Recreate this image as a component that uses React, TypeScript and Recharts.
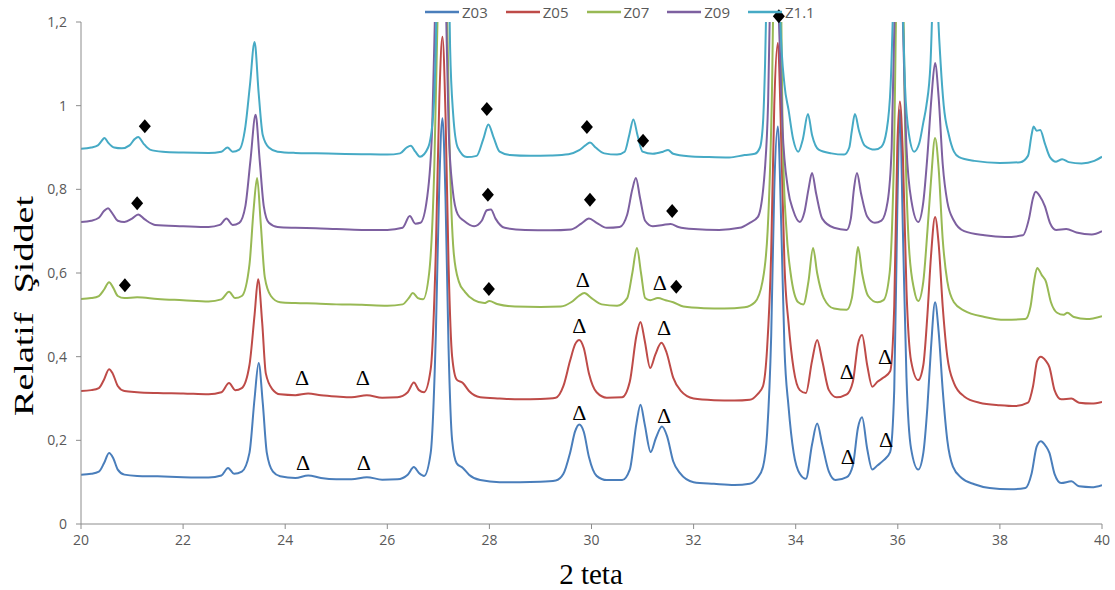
import { LineChart, Line, XAxis, YAxis, ReferenceDot } from 'recharts';

// [2θ, relative intensity]
const z03 = [
  [20.0, 0.118], [20.2, 0.12], [20.35, 0.125], [20.45, 0.145], [20.55, 0.17], [20.63, 0.158], [20.72, 0.13], [20.85, 0.118],
  [21.1, 0.115], [21.5, 0.114], [22.0, 0.112], [22.5, 0.111], [22.75, 0.116], [22.88, 0.134], [23.0, 0.12], [23.15, 0.125],
  [23.3, 0.17], [23.4, 0.3], [23.48, 0.385], [23.56, 0.29], [23.64, 0.17], [23.76, 0.125], [23.9, 0.114], [24.2, 0.11],
  [24.45, 0.116], [24.7, 0.11], [25.0, 0.107], [25.3, 0.107], [25.6, 0.112], [25.9, 0.106], [26.2, 0.107], [26.4, 0.118],
  [26.52, 0.136], [26.62, 0.122], [26.72, 0.115], [26.85, 0.17], [26.95, 0.45], [27.02, 0.82], [27.08, 0.97], [27.14, 0.78],
  [27.2, 0.42], [27.27, 0.2], [27.36, 0.145], [27.48, 0.134], [27.6, 0.118], [27.82, 0.105], [28.2, 0.1], [28.6, 0.1],
  [29.0, 0.101], [29.3, 0.104], [29.45, 0.12], [29.58, 0.17], [29.68, 0.222], [29.76, 0.238], [29.85, 0.22], [29.95, 0.16],
  [30.1, 0.115], [30.3, 0.105], [30.6, 0.105], [30.75, 0.13], [30.88, 0.24], [30.96, 0.285], [31.04, 0.24], [31.16, 0.172],
  [31.26, 0.205], [31.38, 0.233], [31.48, 0.21], [31.6, 0.15], [31.73, 0.122], [32.0, 0.1], [32.4, 0.096], [32.8, 0.093],
  [33.1, 0.096], [33.25, 0.11], [33.36, 0.137], [33.44, 0.217], [33.52, 0.45], [33.58, 0.8], [33.65, 0.95], [33.72, 0.7],
  [33.78, 0.42], [33.86, 0.28], [33.96, 0.17], [34.08, 0.12], [34.2, 0.108], [34.32, 0.19], [34.42, 0.24], [34.52, 0.19],
  [34.65, 0.125], [34.78, 0.105], [35.0, 0.112], [35.12, 0.14], [35.22, 0.23], [35.3, 0.255], [35.4, 0.18], [35.5, 0.13],
  [35.6, 0.14], [35.72, 0.152], [35.85, 0.172], [35.93, 0.32], [35.99, 0.75], [36.04, 0.99], [36.1, 0.7], [36.17, 0.35],
  [36.26, 0.18], [36.4, 0.13], [36.5, 0.17], [36.58, 0.28], [36.65, 0.42], [36.73, 0.53], [36.8, 0.46], [36.88, 0.32],
  [36.97, 0.2], [37.08, 0.137], [37.25, 0.11], [37.5, 0.095], [37.8, 0.086], [38.2, 0.083], [38.5, 0.086], [38.62, 0.12],
  [38.72, 0.185], [38.8, 0.198], [38.9, 0.186], [38.97, 0.17], [39.07, 0.12], [39.2, 0.098], [39.4, 0.102], [39.55, 0.09],
  [39.8, 0.088], [40.0, 0.093],
];

const z05 = [
  [20.0, 0.318], [20.2, 0.32], [20.35, 0.325], [20.45, 0.345], [20.55, 0.37], [20.62, 0.36], [20.72, 0.33], [20.85, 0.318],
  [21.1, 0.315], [21.5, 0.313], [22.0, 0.312], [22.5, 0.31], [22.75, 0.315], [22.9, 0.337], [23.02, 0.32], [23.15, 0.325],
  [23.3, 0.38], [23.4, 0.5], [23.47, 0.585], [23.55, 0.48], [23.62, 0.36], [23.75, 0.322], [23.9, 0.31], [24.2, 0.308],
  [24.45, 0.312], [24.7, 0.308], [25.0, 0.305], [25.3, 0.303], [25.6, 0.308], [25.9, 0.302], [26.2, 0.303], [26.4, 0.315],
  [26.52, 0.338], [26.62, 0.32], [26.72, 0.315], [26.85, 0.37], [26.95, 0.65], [27.02, 1.02], [27.08, 1.165], [27.14, 0.98],
  [27.2, 0.62], [27.27, 0.4], [27.36, 0.345], [27.48, 0.337], [27.6, 0.318], [27.82, 0.303], [28.2, 0.3], [28.6, 0.298],
  [29.0, 0.299], [29.3, 0.302], [29.45, 0.33], [29.58, 0.39], [29.68, 0.43], [29.76, 0.44], [29.85, 0.42], [29.95, 0.36],
  [30.1, 0.315], [30.3, 0.302], [30.6, 0.303], [30.75, 0.34], [30.88, 0.45], [30.96, 0.483], [31.04, 0.44], [31.15, 0.373],
  [31.25, 0.405], [31.37, 0.433], [31.47, 0.41], [31.6, 0.35], [31.75, 0.318], [32.0, 0.3], [32.4, 0.296], [32.8, 0.295],
  [33.1, 0.297], [33.25, 0.31], [33.36, 0.33], [33.44, 0.42], [33.52, 0.65], [33.58, 1.0], [33.65, 1.15], [33.72, 0.9],
  [33.78, 0.62], [33.86, 0.48], [33.96, 0.37], [34.08, 0.32], [34.2, 0.313], [34.32, 0.39], [34.42, 0.44], [34.52, 0.39],
  [34.65, 0.32], [34.8, 0.303], [35.0, 0.31], [35.12, 0.34], [35.22, 0.43], [35.3, 0.452], [35.4, 0.38], [35.5, 0.328],
  [35.6, 0.34], [35.72, 0.35], [35.85, 0.365], [35.93, 0.52], [35.99, 0.9], [36.04, 1.01], [36.1, 0.88], [36.17, 0.56],
  [36.26, 0.39], [36.4, 0.344], [36.5, 0.38], [36.58, 0.5], [36.65, 0.64], [36.73, 0.734], [36.8, 0.67], [36.88, 0.52],
  [36.97, 0.4], [37.1, 0.337], [37.3, 0.305], [37.6, 0.29], [38.0, 0.284], [38.3, 0.282], [38.55, 0.29], [38.65, 0.33],
  [38.73, 0.39], [38.8, 0.4], [38.9, 0.39], [38.97, 0.375], [39.07, 0.32], [39.2, 0.298], [39.4, 0.3], [39.55, 0.29],
  [39.8, 0.288], [40.0, 0.292],
];

const z07 = [
  [20.0, 0.538], [20.2, 0.54], [20.35, 0.545], [20.45, 0.56], [20.55, 0.578], [20.63, 0.565], [20.72, 0.545], [20.85, 0.54],
  [21.1, 0.542], [21.5, 0.538], [22.0, 0.535], [22.5, 0.532], [22.75, 0.537], [22.9, 0.555], [23.02, 0.54], [23.15, 0.545],
  [23.3, 0.62], [23.38, 0.75], [23.45, 0.827], [23.52, 0.72], [23.6, 0.59], [23.72, 0.545], [23.9, 0.53], [24.2, 0.528],
  [24.6, 0.527], [25.0, 0.525], [25.5, 0.524], [26.0, 0.522], [26.3, 0.525], [26.42, 0.54], [26.5, 0.552], [26.6, 0.54],
  [26.7, 0.537], [26.82, 0.6], [26.92, 0.85], [27.0, 1.3], [27.08, 1.6], [27.16, 1.3], [27.22, 0.9], [27.3, 0.65],
  [27.4, 0.58], [27.52, 0.555], [27.7, 0.535], [27.9, 0.528], [28.0, 0.533], [28.15, 0.526], [28.5, 0.52], [29.0, 0.519],
  [29.4, 0.52], [29.6, 0.53], [29.75, 0.545], [29.86, 0.552], [30.0, 0.54], [30.2, 0.525], [30.5, 0.522], [30.7, 0.54],
  [30.8, 0.6], [30.89, 0.66], [30.97, 0.6], [31.05, 0.54], [31.15, 0.535], [31.3, 0.54], [31.45, 0.535], [31.6, 0.53],
  [31.8, 0.52], [32.2, 0.516], [32.6, 0.515], [33.0, 0.518], [33.2, 0.53], [33.35, 0.58], [33.45, 0.7], [33.53, 1.0],
  [33.6, 1.5], [33.68, 1.5], [33.75, 0.9], [33.82, 0.7], [33.9, 0.6], [34.05, 0.53], [34.15, 0.525], [34.25, 0.58],
  [34.34, 0.66], [34.42, 0.6], [34.55, 0.54], [34.75, 0.515], [35.0, 0.512], [35.1, 0.54], [35.16, 0.6], [35.22, 0.662],
  [35.3, 0.6], [35.42, 0.545], [35.6, 0.53], [35.72, 0.535], [35.84, 0.6], [35.92, 0.85], [36.0, 1.4], [36.08, 1.4],
  [36.15, 0.9], [36.22, 0.66], [36.32, 0.56], [36.4, 0.533], [36.5, 0.58], [36.58, 0.7], [36.65, 0.82], [36.73, 0.923],
  [36.8, 0.85], [36.88, 0.68], [36.97, 0.58], [37.1, 0.53], [37.3, 0.51], [37.7, 0.495], [38.1, 0.488], [38.5, 0.49],
  [38.6, 0.52], [38.67, 0.58], [38.73, 0.612], [38.82, 0.595], [38.9, 0.58], [39.0, 0.53], [39.12, 0.505], [39.25, 0.5],
  [39.32, 0.505], [39.45, 0.495], [39.7, 0.49], [40.0, 0.497],
];

const z09 = [
  [20.0, 0.722], [20.2, 0.725], [20.35, 0.732], [20.45, 0.748], [20.53, 0.755], [20.6, 0.745], [20.72, 0.725], [20.85, 0.722],
  [21.0, 0.73], [21.12, 0.74], [21.25, 0.728], [21.45, 0.715], [22.0, 0.712], [22.5, 0.71], [22.72, 0.715], [22.85, 0.73],
  [22.97, 0.715], [23.1, 0.72], [23.22, 0.76], [23.32, 0.87], [23.42, 0.978], [23.5, 0.87], [23.58, 0.76], [23.68, 0.72],
  [23.85, 0.71], [24.2, 0.708], [24.6, 0.707], [25.0, 0.705], [25.5, 0.703], [26.0, 0.703], [26.3, 0.708], [26.44, 0.736],
  [26.55, 0.718], [26.65, 0.72], [26.78, 0.78], [26.88, 0.95], [26.95, 1.3], [27.05, 1.7], [27.14, 1.3], [27.2, 0.95],
  [27.28, 0.8], [27.38, 0.74], [27.5, 0.725], [27.7, 0.712], [27.85, 0.725], [27.95, 0.75], [28.03, 0.752], [28.12, 0.73],
  [28.3, 0.708], [28.7, 0.703], [29.2, 0.702], [29.6, 0.704], [29.8, 0.718], [29.95, 0.73], [30.1, 0.72], [30.3, 0.708],
  [30.55, 0.71], [30.7, 0.74], [30.8, 0.8], [30.87, 0.827], [30.95, 0.78], [31.05, 0.725], [31.2, 0.712], [31.4, 0.715],
  [31.55, 0.717], [31.7, 0.71], [32.0, 0.705], [32.5, 0.703], [32.9, 0.708], [33.1, 0.72], [33.26, 0.734], [33.4, 0.853],
  [33.46, 1.01], [33.52, 1.4], [33.58, 1.6], [33.66, 1.25], [33.74, 0.95], [33.85, 0.8], [33.95, 0.75], [34.08, 0.722],
  [34.17, 0.745], [34.25, 0.8], [34.32, 0.839], [34.4, 0.79], [34.52, 0.73], [34.75, 0.708], [35.0, 0.703], [35.08, 0.73],
  [35.14, 0.8], [35.2, 0.839], [35.28, 0.79], [35.4, 0.735], [35.55, 0.72], [35.68, 0.725], [35.8, 0.77], [35.88, 0.9],
  [35.95, 1.3], [36.02, 1.6], [36.1, 1.2], [36.17, 0.9], [36.27, 0.77], [36.4, 0.722], [36.5, 0.77], [36.58, 0.88],
  [36.66, 1.02], [36.73, 1.102], [36.8, 1.02], [36.88, 0.86], [36.97, 0.77], [37.1, 0.725], [37.3, 0.7], [37.7, 0.69],
  [38.1, 0.686], [38.45, 0.69], [38.57, 0.73], [38.65, 0.78], [38.7, 0.794], [38.78, 0.784], [38.88, 0.76], [38.98, 0.72],
  [39.1, 0.703], [39.3, 0.705], [39.5, 0.697], [39.8, 0.692], [40.0, 0.7],
];

const z11 = [
  [20.0, 0.897], [20.2, 0.9], [20.33, 0.905], [20.4, 0.915], [20.46, 0.923], [20.53, 0.912], [20.65, 0.9], [20.8, 0.898],
  [20.95, 0.905], [21.05, 0.92], [21.12, 0.925], [21.22, 0.91], [21.35, 0.895], [21.6, 0.89], [22.0, 0.888], [22.5, 0.887],
  [22.75, 0.89], [22.87, 0.9], [22.97, 0.89], [23.1, 0.895], [23.22, 0.95], [23.31, 1.05], [23.4, 1.152], [23.48, 1.03],
  [23.56, 0.93], [23.68, 0.9], [23.85, 0.89], [24.2, 0.887], [24.6, 0.886], [25.0, 0.885], [25.5, 0.884], [26.0, 0.883],
  [26.25, 0.886], [26.38, 0.9], [26.46, 0.904], [26.55, 0.89], [26.64, 0.878], [26.8, 0.9], [26.9, 0.98], [26.95, 1.14],
  [27.0, 1.5], [27.09, 2.0], [27.18, 1.5], [27.23, 1.14], [27.29, 0.98], [27.38, 0.9], [27.56, 0.877], [27.75, 0.88],
  [27.88, 0.92], [27.98, 0.955], [28.08, 0.925], [28.2, 0.89], [28.4, 0.882], [28.8, 0.88], [29.2, 0.881], [29.55, 0.884],
  [29.75, 0.893], [29.88, 0.905], [29.97, 0.912], [30.08, 0.9], [30.25, 0.886], [30.5, 0.883], [30.65, 0.89], [30.74, 0.93],
  [30.82, 0.967], [30.9, 0.93], [31.0, 0.89], [31.2, 0.885], [31.4, 0.89], [31.5, 0.894], [31.6, 0.885], [31.9, 0.879],
  [32.3, 0.877], [32.7, 0.876], [33.0, 0.882], [33.2, 0.885], [33.3, 0.9], [33.36, 0.96], [33.4, 1.1], [33.45, 1.4],
  [33.55, 2.0], [33.65, 1.5], [33.7, 1.2], [33.78, 1.05], [33.86, 0.99], [33.95, 0.92], [34.05, 0.89], [34.14, 0.92],
  [34.24, 0.98], [34.32, 0.93], [34.45, 0.895], [34.7, 0.886], [34.95, 0.883], [35.05, 0.9], [35.1, 0.94], [35.16, 0.98],
  [35.24, 0.94], [35.35, 0.905], [35.55, 0.895], [35.68, 0.902], [35.78, 0.94], [35.86, 1.05], [35.92, 1.3], [36.0, 1.8],
  [36.08, 1.3], [36.14, 1.05], [36.22, 0.93], [36.32, 0.89], [36.42, 0.91], [36.5, 0.96], [36.56, 1.0], [36.64, 1.1],
  [36.68, 1.25], [36.73, 1.5], [36.78, 1.25], [36.84, 1.1], [36.9, 1.0], [37.0, 0.93], [37.1, 0.89], [37.2, 0.877],
  [37.5, 0.868], [38.0, 0.863], [38.4, 0.865], [38.55, 0.88], [38.62, 0.93], [38.66, 0.95], [38.72, 0.94], [38.79, 0.942],
  [38.88, 0.91], [38.98, 0.877], [39.1, 0.866], [39.22, 0.872], [39.35, 0.865], [39.6, 0.862], [39.85, 0.868], [40.0, 0.878],
];

const seriesNames = ['Z03', 'Z05', 'Z07', 'Z09', 'Z1.1'];
const seriesColors = ['#4a7ebb', '#be4b48', '#98b954', '#7d60a0', '#46aac5'];
const seriesPoints = [z03, z05, z07, z09, z11];

// phase markers (♦ and Δ) placed on the pattern
const diamonds = [
  [21.25, 0.951], [21.1, 0.767], [20.86, 0.571], [27.95, 0.992], [27.97, 0.787], [27.99, 0.562],
  [29.91, 0.949], [29.97, 0.775], [31.01, 0.916], [31.58, 0.748], [31.66, 0.567], [33.67, 1.214],
];
const deltas = [
  [24.33, 0.349], [25.52, 0.349], [24.35, 0.146], [25.54, 0.146], [29.83, 0.583], [31.34, 0.576],
  [29.76, 0.473], [31.42, 0.469], [29.76, 0.265], [31.42, 0.258], [35.0, 0.363], [35.75, 0.399],
  [35.02, 0.16], [35.77, 0.201],
];

const xTicks = [20, 22, 24, 26, 28, 30, 32, 34, 36, 38, 40];
const yTicks = [0, 0.2, 0.4, 0.6, 0.8, 1, 1.2];

const tickStyle = { fill: '#595959', fontSize: 14, fontFamily: 'Open Sans, sans-serif' };

const Diamond = (props: any) => {
  const { cx, cy } = props;
  return <polygon points={`${cx},${cy - 7} ${cx + 6},${cy} ${cx},${cy + 7} ${cx - 6},${cy}`} fill="#000" />;
};

const Delta = (props: any) => {
  const { cx, cy } = props;
  return (
    <text x={cx} y={cy + 7} textAnchor="middle" fontSize={22} fontFamily="Liberation Serif, Times New Roman, serif" fill="#000">
      Δ
    </text>
  );
};

export default function App() {
  return (
    <div style={{ position: 'absolute', left: 0, top: 0, width: 1115, height: 590, background: '#fff' }}>
      <LineChart width={1115} height={590} margin={{ top: 22, right: 13, left: 31, bottom: 36 }}>
        <XAxis
          type="number"
          dataKey="x"
          domain={[20, 40]}
          ticks={xTicks}
          allowDataOverflow
          height={30}
          stroke="#8c8c8c"
          tickSize={5}
          tickMargin={6}
          tick={tickStyle}
        />
        <YAxis
          type="number"
          domain={[0, 1.2]}
          ticks={yTicks}
          allowDataOverflow
          width={50}
          stroke="#8c8c8c"
          tickSize={5}
          tickMargin={9}
          tick={tickStyle}
          tickFormatter={(v) => String(v).replace('.', ',')}
        />
        {seriesPoints.map((pts, i) => (
          <Line
            key={seriesNames[i]}
            name={seriesNames[i]}
            data={pts.map(([x, y]) => ({ x, y }))}
            dataKey="y"
            type="monotone"
            stroke={seriesColors[i]}
            strokeWidth={2}
            dot={false}
            isAnimationActive={false}
          />
        ))}
        {deltas.map(([x, y], i) => (
          <ReferenceDot key={`d-${i}`} x={x} y={y} r={8} ifOverflow="visible" shape={Delta} />
        ))}
        {diamonds.map(([x, y], i) => (
          <ReferenceDot key={`m-${i}`} x={x} y={y} r={6} ifOverflow="visible" shape={Diamond} />
        ))}
      </LineChart>

      <div
        style={{
          position: 'absolute',
          left: 425,
          top: 2,
          display: 'flex',
          alignItems: 'center',
          fontFamily: 'Open Sans, sans-serif',
          fontSize: 15,
          color: '#595959',
        }}
      >
        {seriesNames.map((n, i) => (
          <div key={n} style={{ display: 'flex', alignItems: 'center', marginRight: 18 }}>
            <svg width={34} height={4} style={{ marginRight: 3 }}>
              <line x1={0} y1={2} x2={34} y2={2} stroke={seriesColors[i]} strokeWidth={2.5} />
            </svg>
            <span>{n}</span>
          </div>
        ))}
      </div>

      <svg width={1115} height={590} style={{ position: 'absolute', left: 0, top: 0, pointerEvents: 'none' }}>
        <text
          transform="translate(33, 306) rotate(-90)"
          textAnchor="middle"
          fontSize={27}
          fontFamily="Liberation Serif, Times New Roman, serif"
          fill="#000"
          textLength={220}
          lengthAdjust="spacingAndGlyphs"
        >
          {'Relatif\u00a0\u00a0Şiddet'}
        </text>
        <text x={591} y={584} textAnchor="middle" fontSize={29} fontFamily="Liberation Serif, Times New Roman, serif" fill="#000">
          2 teta
        </text>
      </svg>
    </div>
  );
}
